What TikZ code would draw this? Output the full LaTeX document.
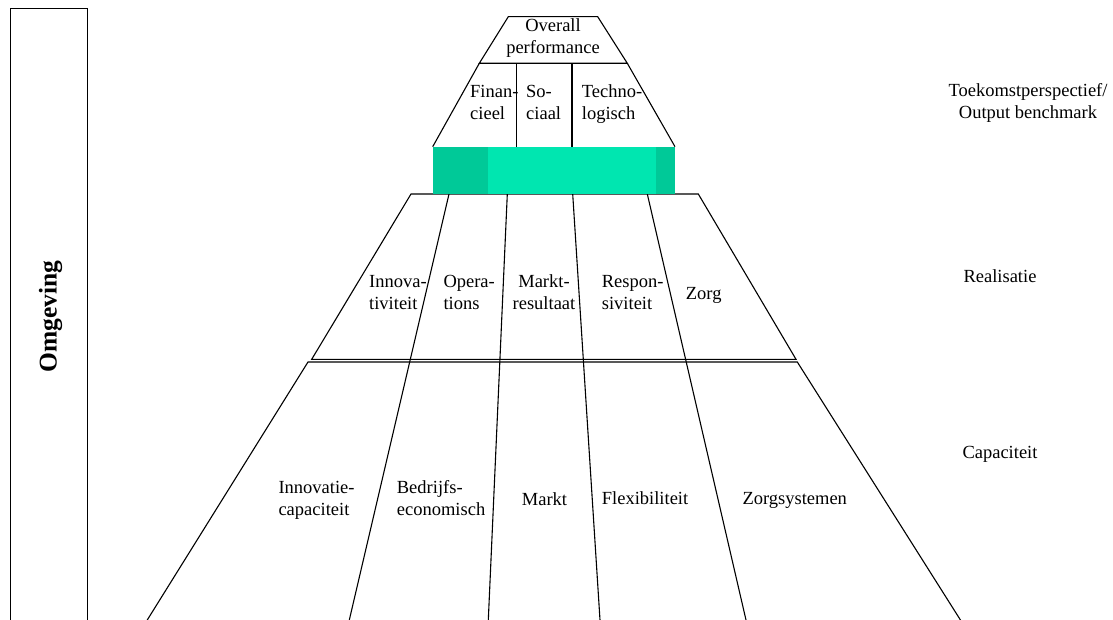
\documentclass[tikz,border=0pt]{standalone}
\usepackage{fontspec}
\setmainfont{Liberation Serif}
\usepackage{tikz}
\definecolor{mint}{RGB}{0,230,176}
\definecolor{darkmint}{RGB}{0,201,152}
\tikzset{
  trapline/.style={line width=1.1pt},
  lbl/.style={inner sep=0, font=\fontsize{18.5}{22}\selectfont},
  lblleft/.style={lbl, align=left, anchor=base west},
  lblmid/.style={lbl, align=center, anchor=base}
}

\begin{document}
\begin{tikzpicture}[x=1pt,y=-1pt]
  \useasboundingbox (0,0) rectangle (1113,620);
  \clip (0,0) rectangle (1113,620);

  % Omgeving box
  \draw[line width=1.5pt] (10.7,625) -- (10.7,8.3) -- (87.7,8.3) -- (87.7,625);
  \node[inner sep=0, font=\fontsize{25.5}{30}\selectfont\bfseries, rotate=90] (omgeving) at (50.5,316.5) {Omgeving};

  % Top: overall performance
  \draw[trapline] (479.3,63.3) -- (508.3,16.7) -- (597.7,16.7) -- (627.3,63.3) -- cycle;
  \draw[trapline] (479.3,63.3) -- (432.7,146.7);
  \draw[trapline] (627.3,63.3) -- (675,146.7);
  \draw[trapline] (516.7,63.3) -- (516.7,146.7);
  \draw[trapline] (572,63.3) -- (572,146.7);

  % Realisatie
  \draw[trapline] (411,194) -- (698.3,194) -- (796,359.3) -- (311.7,359.3) -- cycle;
  % Capaciteit
  \draw[trapline] (146,622) -- (308,362) -- (797.3,362) -- (961.7,622);
  % dividers run through both layers
  \foreach \xa/\xb in {449/349.3, 507.3/488.3, 572.7/600, 647.3/746}
    \draw[trapline] (\xa,194) -- (\xb,620);

  % Green bar
  \fill[mint] (433,146.7) rectangle (675,194.3);
  \fill[darkmint] (433,146.7) rectangle (487.7,194.3);
  \fill[darkmint] (656,146.7) rectangle (675,194.3);

  % Labels (base = last line)
  \node[lblmid] (overall) at (553,54) {Overall\\performance};
  \node[lblleft] (financieel) at (470,119.3) {Finan-\\cieel};
  \node[lblleft] (sociaal) at (526,119.3) {So-\\ciaal};
  \node[lblleft] (technologisch) at (581.7,119.3) {Techno-\\logisch};
  \node[lblmid] (toekomst) at (1028,119) {Toekomstperspectief/\\Output benchmark};

  \node[lblleft] (innovativiteit) at (369,309.5) {Innova-\\tiviteit};
  \node[lblleft] (operations) at (443.3,309.5) {Opera-\\tions};
  \node[lblmid] (marktresultaat) at (544,309.5) {Markt-\\resultaat};
  \node[lblleft] (responsiviteit) at (601.7,309.5) {Respon-\\siviteit};
  \node[lblleft] (zorg) at (685.7,299.3) {Zorg};
  \node[lblleft] (realisatie) at (963.3,282.7) {Realisatie};

  \node[lblleft] (innovcap) at (278.3,515) {Innovatie-\\capaciteit};
  \node[lblleft] (bedrijfs) at (396.7,515) {Bedrijfs-\\economisch};
  \node[lblleft] (markt) at (521.7,505) {Markt};
  \node[lblleft] (flexibiliteit) at (601.7,504.3) {Flexibiliteit};
  \node[lblleft] (zorgsystemen) at (742.3,504.3) {Zorgsystemen};
  \node[lblleft] (capaciteit) at (962.3,458.3) {Capaciteit};
\end{tikzpicture}
\end{document}
